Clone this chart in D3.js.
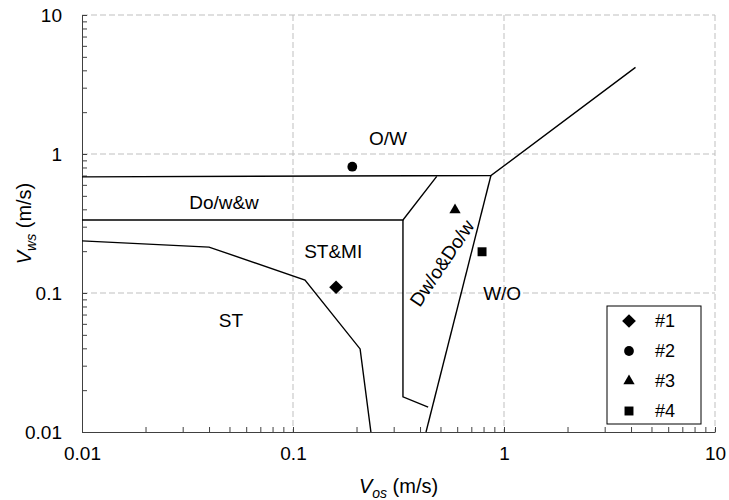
<!DOCTYPE html>
<meta charset="utf-8">
<style>
body { margin: 0; background: #fff; }
svg { font-family: "Liberation Sans", Arial, sans-serif; }
.grid line { stroke: #bfbfbf; stroke-dasharray: 6,3; stroke-width: 1; }
.axis path, .axis line { stroke: #404040; }
.axis text { font-size: 19px; fill: #000; }
.region { font-size: 19px; fill: #000; }
.legend text { font-size: 18px; fill: #000; }
.bound { fill: none; stroke: #000; stroke-width: 1.4px; }
</style>
<svg width="729" height="500"></svg>
<script src="https://cdn.jsdelivr.net/npm/d3@7"></script>
<script>

var svg = d3.select("svg");
var margin = {left: 82, top: 15, right: 14, bottom: 68};
var W = 729 - margin.left - margin.right,
    H = 500 - margin.top - margin.bottom;

// regime boundaries (Vos, Vws)
var owLine = [[0.01, 0.685], [0.867, 0.70], [4.2, 4.2]];
var dowLine = [[0.01, 0.335], [0.332, 0.335], [0.48, 0.69]];
var dwoLeft = [[0.332, 0.335], [0.332, 0.0179], [0.437, 0.0151]];
var dwoRight = [[0.867, 0.70], [0.427, 0.01]];
var stLine = [[0.01, 0.237], [0.04, 0.214], [0.114, 0.124], [0.208, 0.0396], [0.234, 0.01]];

// experimental points
var pointNames = ["#1", "#2", "#3", "#4"];
var pointVos = [0.16, 0.191, 0.586, 0.787];
var pointVws = [0.11, 0.81, 0.395, 0.198];
var pointShapes = [d3.symbolDiamond2, d3.symbolCircle, d3.symbolTriangle, d3.symbolSquare];
var pointSizes = [120, 75, 55, 80];

// region labels
var labelText = ["O/W", "Do/w&w", "ST&MI", "ST", "W/O", "Dw/o&Do/w"];
var labelVos = [0.282, 0.0471, 0.155, 0.0508, 0.98, 0.508];
var labelVws = [1.30, 0.446, 0.2, 0.064, 0.1, 0.164];
var labelRot = [0, 0, 0, 0, 0, -56];

var majorTicks = [0.01, 0.1, 1, 10];

var x = d3.scaleLog().domain([0.01, 10]).range([0, W]);
var y = d3.scaleLog().domain([0.01, 10]).range([H, 0]);

var g = svg.append("g").attr("transform", "translate(" + margin.left + "," + margin.top + ")");

// dashed grid
var grid = g.append("g").attr("class", "grid");
grid.selectAll(".gx").data(majorTicks.slice(1)).enter().append("line")
    .attr("x1", function(d) { return x(d); }).attr("x2", function(d) { return x(d); })
    .attr("y1", 0).attr("y2", H);
grid.selectAll(".gy").data(majorTicks.slice(1)).enter().append("line")
    .attr("y1", function(d) { return y(d); }).attr("y2", function(d) { return y(d); })
    .attr("x1", 0).attr("x2", W);

var fmt = function(d) { return majorTicks.indexOf(+d.toPrecision(3)) >= 0 ? String(+d.toPrecision(3)) : ""; };

g.append("g").attr("class", "axis")
    .attr("transform", "translate(0," + H + ")")
    .call(d3.axisBottom(x).tickSizeInner(-5).tickSizeOuter(0).tickPadding(15).tickFormat(fmt));

g.append("g").attr("class", "axis")
    .call(d3.axisLeft(y).tickSizeInner(-5).tickSizeOuter(0).tickPadding(20).tickFormat(fmt));

// boundaries
var line = d3.line().x(function(d) { return x(d[0]); }).y(function(d) { return y(d[1]); });
[owLine, dowLine, dwoLeft, dwoRight, stLine].forEach(function(l) {
  g.append("path").attr("class", "bound").attr("d", line(l));
});

// labels
labelText.forEach(function(t, i) {
  var px = x(labelVos[i]), py = y(labelVws[i]);
  g.append("text").attr("class", "region")
    .attr("text-anchor", "middle").attr("dy", "0.35em")
    .attr("transform", "translate(" + px + "," + py + ") rotate(" + labelRot[i] + ")")
    .text(t);
});

// points
pointNames.forEach(function(n, i) {
  g.append("path")
    .attr("transform", "translate(" + x(pointVos[i]) + "," + y(pointVws[i]) + ")")
    .attr("d", d3.symbol().type(pointShapes[i]).size(pointSizes[i])())
    .attr("fill", "#000");
});

// legend
var lg = g.append("g").attr("class", "legend")
  .attr("transform", "translate(" + (607 - margin.left) + "," + (306 - margin.top) + ")");
lg.append("rect").attr("width", 94).attr("height", 118)
  .attr("fill", "#fff").attr("stroke", "#000").attr("stroke-width", 1);
pointNames.forEach(function(n, i) {
  var ly = 15 + i * 30;
  lg.append("path")
    .attr("transform", "translate(22," + ly + ")")
    .attr("d", d3.symbol().type(pointShapes[i]).size(pointSizes[i])())
    .attr("fill", "#000");
  lg.append("text").attr("x", 48).attr("y", ly).attr("dy", "0.35em").text(n);
});

// axis titles
var xt = svg.append("text").attr("font-size", "20px")
  .attr("x", margin.left + W / 2).attr("y", 493).attr("text-anchor", "middle");
xt.append("tspan").attr("font-style", "italic").text("V");
xt.append("tspan").attr("font-style", "italic").attr("font-size", "14px").attr("dy", 5).text("os");
xt.append("tspan").attr("dy", -5).text(" (m/s)");

var yt = svg.append("text").attr("font-size", "20px")
  .attr("transform", "translate(31," + (margin.top + H / 2) + ") rotate(-90)")
  .attr("text-anchor", "middle");
yt.append("tspan").attr("font-style", "italic").text("V");
yt.append("tspan").attr("font-style", "italic").attr("font-size", "14px").attr("dy", 5).text("ws");
yt.append("tspan").attr("dy", -5).text(" (m/s)");

</script>
